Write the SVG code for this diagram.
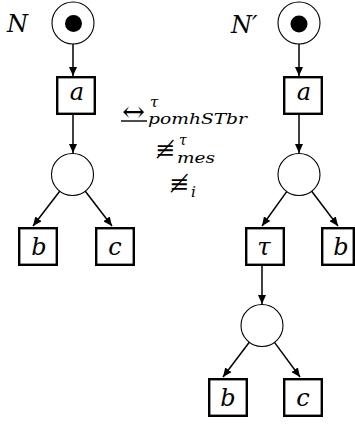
<svg xmlns="http://www.w3.org/2000/svg" width="355" height="427" viewBox="0 0 355 427">
<style>
.place{fill:#fff;stroke:#000;stroke-width:1.1}
.token{fill:#000}
.trans{fill:#fff;stroke:#000;stroke-width:2.4}
.arc{stroke:#000;stroke-width:1.5;fill:none;marker-end:url(#ah)}
.m{font-family:"DejaVu Serif","Liberation Serif",serif;font-style:italic;fill:#000}
.lbl{font-size:24px;text-anchor:middle}
.sym{font-family:"DejaVu Serif","Liberation Serif",serif;fill:#000}
</style>
<defs>
<marker id="ah" markerUnits="userSpaceOnUse" markerWidth="9" markerHeight="8" refX="9" refY="4" orient="auto">
<path d="M0,0 L9,4 L0,8 z" fill="#000"/>
</marker>
</defs>
<rect width="355" height="427" fill="#fff"/>
<g id="connectors">
<line class="arc" x1="73" y1="44" x2="73" y2="76"/>
<line class="arc" x1="73" y1="115" x2="73" y2="153"/>
<line class="arc" x1="59.7" y1="191.2" x2="33" y2="226"/>
<line class="arc" x1="85.3" y1="191.2" x2="112" y2="226"/>
<line class="arc" x1="299" y1="44" x2="299" y2="76"/>
<line class="arc" x1="299" y1="115" x2="299" y2="153"/>
<line class="arc" x1="286.7" y1="191.6" x2="262" y2="226"/>
<line class="arc" x1="311.7" y1="191.2" x2="338" y2="226"/>
<line class="arc" x1="262" y1="266" x2="262" y2="304"/>
<line class="arc" x1="249.3" y1="342.2" x2="223" y2="377"/>
<line class="arc" x1="274.5" y1="342.4" x2="300" y2="377"/>
</g>
<g id="labelN"><text class="m" x="7" y="32" font-size="24">N</text></g>
<g id="labelN2"><text class="m" x="231" y="33" font-size="24">N′</text></g>
<g id="pL1"><circle class="place" cx="73" cy="23" r="21"/><circle class="token" cx="73.5" cy="23.5" r="8.5"/></g>
<g id="tLa"><rect class="trans" x="57.2" y="77.2" width="37.6" height="36.6"/><text class="m lbl" x="77" y="100">a</text></g>
<g id="pL2"><circle class="place" cx="72.5" cy="174.5" r="21"/></g>
<g id="tLb"><rect class="trans" x="19.2" y="228.2" width="37.6" height="36.6"/><text class="m lbl" x="39" y="255">b</text></g>
<g id="tLc"><rect class="trans" x="96.2" y="228.2" width="37.6" height="36.6"/><text class="m lbl" x="115" y="255">c</text></g>
<g id="pR1"><circle class="place" cx="299" cy="23" r="21"/><circle class="token" cx="299" cy="24" r="8.5"/></g>
<g id="tRa"><rect class="trans" x="284.2" y="77.2" width="37.6" height="36.6"/><text class="m lbl" x="304" y="100">a</text></g>
<g id="pR2"><circle class="place" cx="299" cy="174.5" r="21"/></g>
<g id="tRtau"><rect class="trans" x="246.2" y="228.2" width="37.6" height="36.6"/><text class="m lbl" x="264" y="255">τ</text></g>
<g id="tRb"><rect class="trans" x="322.2" y="228.2" width="31.6" height="36.6"/><text class="m lbl" x="341" y="255">b</text></g>
<g id="pR3"><circle class="place" cx="262" cy="325.5" r="21"/></g>
<g id="tRb2"><rect class="trans" x="209.2" y="379.2" width="37.6" height="36.6"/><text class="m lbl" x="228" y="406">b</text></g>
<g id="tRc2"><rect class="trans" x="284.2" y="379.2" width="37.6" height="36.6"/><text class="m lbl" x="303" y="406">c</text></g>
<g id="relations">
<text class="sym" x="133.5" y="121" font-size="27" text-anchor="middle">↔</text>
<line x1="121" y1="121" x2="147" y2="121" stroke="#000" stroke-width="1.4"/>
<text class="m" x="150" y="107" font-size="15">τ</text>
<text class="m" x="148" y="124" font-size="15" textLength="99" lengthAdjust="spacingAndGlyphs">pomhSTbr</text>
<text class="sym" x="165" y="158" font-size="24" text-anchor="middle">≢</text>
<text class="m" x="179" y="145" font-size="14">τ</text>
<text class="m" x="177" y="163" font-size="15" textLength="38" lengthAdjust="spacingAndGlyphs">mes</text>
<text class="sym" x="179" y="192" font-size="24" text-anchor="middle">≢</text>
<text class="m" x="191" y="197" font-size="15">i</text>
</g>
</svg>
